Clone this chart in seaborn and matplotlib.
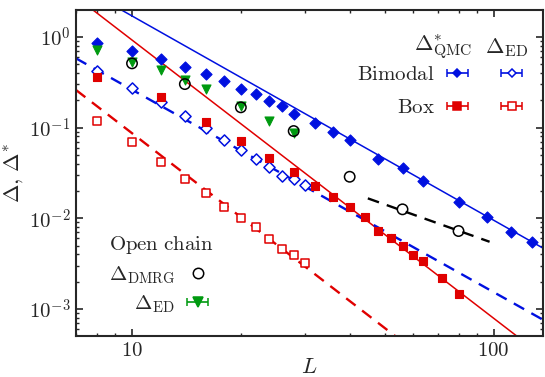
import numpy as np
import pandas as pd
import matplotlib
matplotlib.use("Agg")
import matplotlib.pyplot as plt
from matplotlib.lines import Line2D
from matplotlib.ticker import FixedLocator, FixedFormatter, LogLocator, NullFormatter
import seaborn as sns

# ---------------- data ----------------
L_bimodal_qmc = [8, 10, 12, 14, 16, 18, 20, 22, 24, 26, 28, 32, 36, 40, 48, 56, 64, 80, 96, 112, 128]
D_bimodal_qmc = [0.859, 0.69, 0.568, 0.464, 0.385, 0.323, 0.267, 0.232, 0.194, 0.174, 0.141,
                 0.113, 0.0885, 0.0723, 0.0447, 0.0356, 0.0255, 0.0152, 0.0104, 0.00707, 0.00552]

L_bimodal_ed = [8, 10, 12, 14, 16, 18, 20, 22, 24, 26, 28, 30]
D_bimodal_ed = [0.422, 0.272, 0.1895, 0.134, 0.0988, 0.0728, 0.0561, 0.0454, 0.037, 0.0294, 0.0269, 0.0233]

L_box_qmc = [8, 12, 16, 20, 24, 28, 32, 36, 40, 44, 48, 52, 56, 60, 64, 72, 80]
D_box_qmc = [0.357, 0.215, 0.115, 0.0716, 0.0465, 0.0321, 0.0229, 0.0170, 0.0134, 0.0104,
             0.0072, 0.0061, 0.00499, 0.00394, 0.00339, 0.00222, 0.00147]

L_box_ed = [8, 10, 12, 14, 16, 18, 20, 22, 24, 26, 28, 30]
D_box_ed = [0.118, 0.0687, 0.042, 0.0271, 0.01885, 0.0132, 0.01016, 0.0081, 0.00587, 0.00455, 0.00394, 0.00319]

L_dmrg = [10, 14, 20, 28, 40, 56, 80]
D_dmrg = [0.509, 0.301, 0.167, 0.0915, 0.0287, 0.01257, 0.00725]

L_open_ed = [8, 10, 12, 14, 16, 20, 24, 28]
D_open_ed = [0.714, 0.523, 0.4266, 0.3336, 0.2635, 0.1725, 0.1189, 0.0877]

# power-law fit lines (straight on log-log): end points
fit_L = [7, 137]
fit_bimodal_qmc = [3.78, 0.0047]
fit_box_qmc = [2.744, 0.000303]
fit_bimodal_ed = [0.578, 0.000764]
fit_box_ed = [0.259, 2.81e-5]
fit_dmrg_L = [44.9, 97.5]
fit_dmrg = [0.0166, 0.00552]

x_ticks = [10, 100]
x_tick_labels = ["$10$", "$100$"]
y_ticks = [1e-3, 1e-2, 1e-1, 1e0]
y_tick_labels = ["$10^{-3}$", "$10^{-2}$", "$10^{-1}$", "$10^{0}$"]

# ---------------- style ----------------
sns.set_style("ticks")
plt.rcParams.update({
    "font.family": ["DejaVu Serif"],
    "mathtext.fontset": "cm",
    "axes.linewidth": 1.5,
    "xtick.direction": "in", "ytick.direction": "in",
    "xtick.top": True, "ytick.right": True,
    "xtick.major.size": 5, "ytick.major.size": 5,
    "xtick.minor.size": 2.5, "ytick.minor.size": 2.5,
    "xtick.major.width": 1.2, "ytick.major.width": 1.2,
    "xtick.minor.width": 1.0, "ytick.minor.width": 1.0,
})

BLUE = "#0010e0"
RED = "#e00000"
GREEN = "#009a10"

fig = plt.figure(figsize=(5.45, 3.77), dpi=100)
ax = fig.add_axes([76 / 545, 1 - 335.7 / 377, 467 / 545, 325.7 / 377])
ax.set_xscale("log")
ax.set_yscale("log")

# fit lines
def fitline(x, y, color, dashed, lw):
    sns.lineplot(x=x, y=y, ax=ax, color=color, lw=lw, zorder=1)
    ln = ax.lines[-1]
    if dashed:
        ln.set_dashes((5, 3.5))

fitline(fit_L, fit_bimodal_qmc, BLUE, False, 1.1)
fitline(fit_L, fit_box_qmc, RED, False, 1.1)
fitline(fit_L, fit_bimodal_ed, BLUE, True, 1.7)
fitline(fit_L, fit_box_ed, RED, True, 1.7)
fitline(fit_dmrg_L, fit_dmrg, "black", True, 1.7)

# markers
sns.scatterplot(x=L_bimodal_qmc, y=D_bimodal_qmc, ax=ax, marker="D", s=32,
                color=BLUE, edgecolor=BLUE, linewidth=0.8, zorder=3)
sns.scatterplot(x=L_bimodal_ed, y=D_bimodal_ed, ax=ax, marker="D", s=32,
                facecolor="white", edgecolor=BLUE, linewidth=1.1, zorder=3)
sns.scatterplot(x=L_box_qmc, y=D_box_qmc, ax=ax, marker="s", s=38,
                color=RED, edgecolor=RED, linewidth=0.8, zorder=3)
sns.scatterplot(x=L_box_ed, y=D_box_ed, ax=ax, marker="s", s=38,
                facecolor="white", edgecolor=RED, linewidth=1.1, zorder=3)
sns.scatterplot(x=L_dmrg, y=D_dmrg, ax=ax, marker="o", s=56,
                facecolor="none", edgecolor="black", linewidth=1.1, zorder=4)
sns.scatterplot(x=L_open_ed, y=D_open_ed, ax=ax, marker="v", s=42,
                color=GREEN, edgecolor=GREEN, linewidth=0.8, zorder=3)

# axes
ax.set_xlim(7, 137)
ax.set_ylim(5.1e-4, 1.97)
ax.xaxis.set_major_locator(FixedLocator(x_ticks))
ax.xaxis.set_major_formatter(FixedFormatter(x_tick_labels))
ax.xaxis.set_minor_locator(LogLocator(base=10, subs=np.arange(2, 10)))
ax.xaxis.set_minor_formatter(NullFormatter())
ax.yaxis.set_major_locator(FixedLocator(y_ticks))
ax.yaxis.set_major_formatter(FixedFormatter(y_tick_labels))
ax.yaxis.set_minor_locator(LogLocator(base=10, subs=np.arange(2, 10)))
ax.yaxis.set_minor_formatter(NullFormatter())
ax.tick_params(labelsize=15, pad=4)
ax.set_xlabel("$L$", fontsize=16, labelpad=-3)
ax.set_ylabel(r"$\Delta,\,\Delta^{*}$", fontsize=16, labelpad=3)

# legend handles
def eb(color, marker, ms, face):
    return ax.errorbar([np.nan], [np.nan], xerr=[[1]], fmt=marker, ms=ms, color=color,
                       mfc=face, mec=color, mew=1.1, capsize=3, elinewidth=1.2, capthick=1.2)

h_bq = eb(BLUE, "D", 4.5, BLUE)
h_xq = eb(RED, "s", 6, RED)
h_be = eb(BLUE, "D", 4.5, "white")
h_xe = eb(RED, "s", 6, "white")
h_oe = eb(GREEN, "v", 6.5, GREEN)
h_dm = Line2D([], [], ls="none", marker="o", ms=7.5, mfc="none", mec="black", mew=1.1)

leg1 = ax.legend([h_bq, h_xq, h_be, h_xe],
                 [r"$\mathrm{Bimodal}$", r"$\mathrm{Box}$", "", ""],
                 ncol=2, markerfirst=False, frameon=False, fontsize=15,
                 handlelength=1.0, handletextpad=0.6, columnspacing=1.0,
                 labelspacing=0.65, borderpad=0, borderaxespad=0,
                 loc="upper right", bbox_to_anchor=(0.955, 0.83))
ax.add_artist(leg1)
ax.text(0.786, 0.885, r"$\Delta^{*}_{\mathrm{QMC}}$", transform=ax.transAxes,
        fontsize=16, ha="center", va="center")
ax.text(0.922, 0.885, r"$\Delta_{\mathrm{ED}}$", transform=ax.transAxes,
        fontsize=16, ha="center", va="center")

leg2 = ax.legend([h_dm, h_oe], [r"$\Delta_{\mathrm{DMRG}}$", r"$\Delta_{\mathrm{ED}}$"],
                 title=r"$\mathrm{Open\ chain}$", title_fontsize=15, alignment="left",
                 markerfirst=False, frameon=False, fontsize=15,
                 handlelength=1.0, handletextpad=0.6, labelspacing=0.35,
                 borderpad=0, borderaxespad=0,
                 loc="lower left", bbox_to_anchor=(0.07, 0.065))
leg2._legend_box.sep = 6

fig.savefig("out.png", dpi=100)
